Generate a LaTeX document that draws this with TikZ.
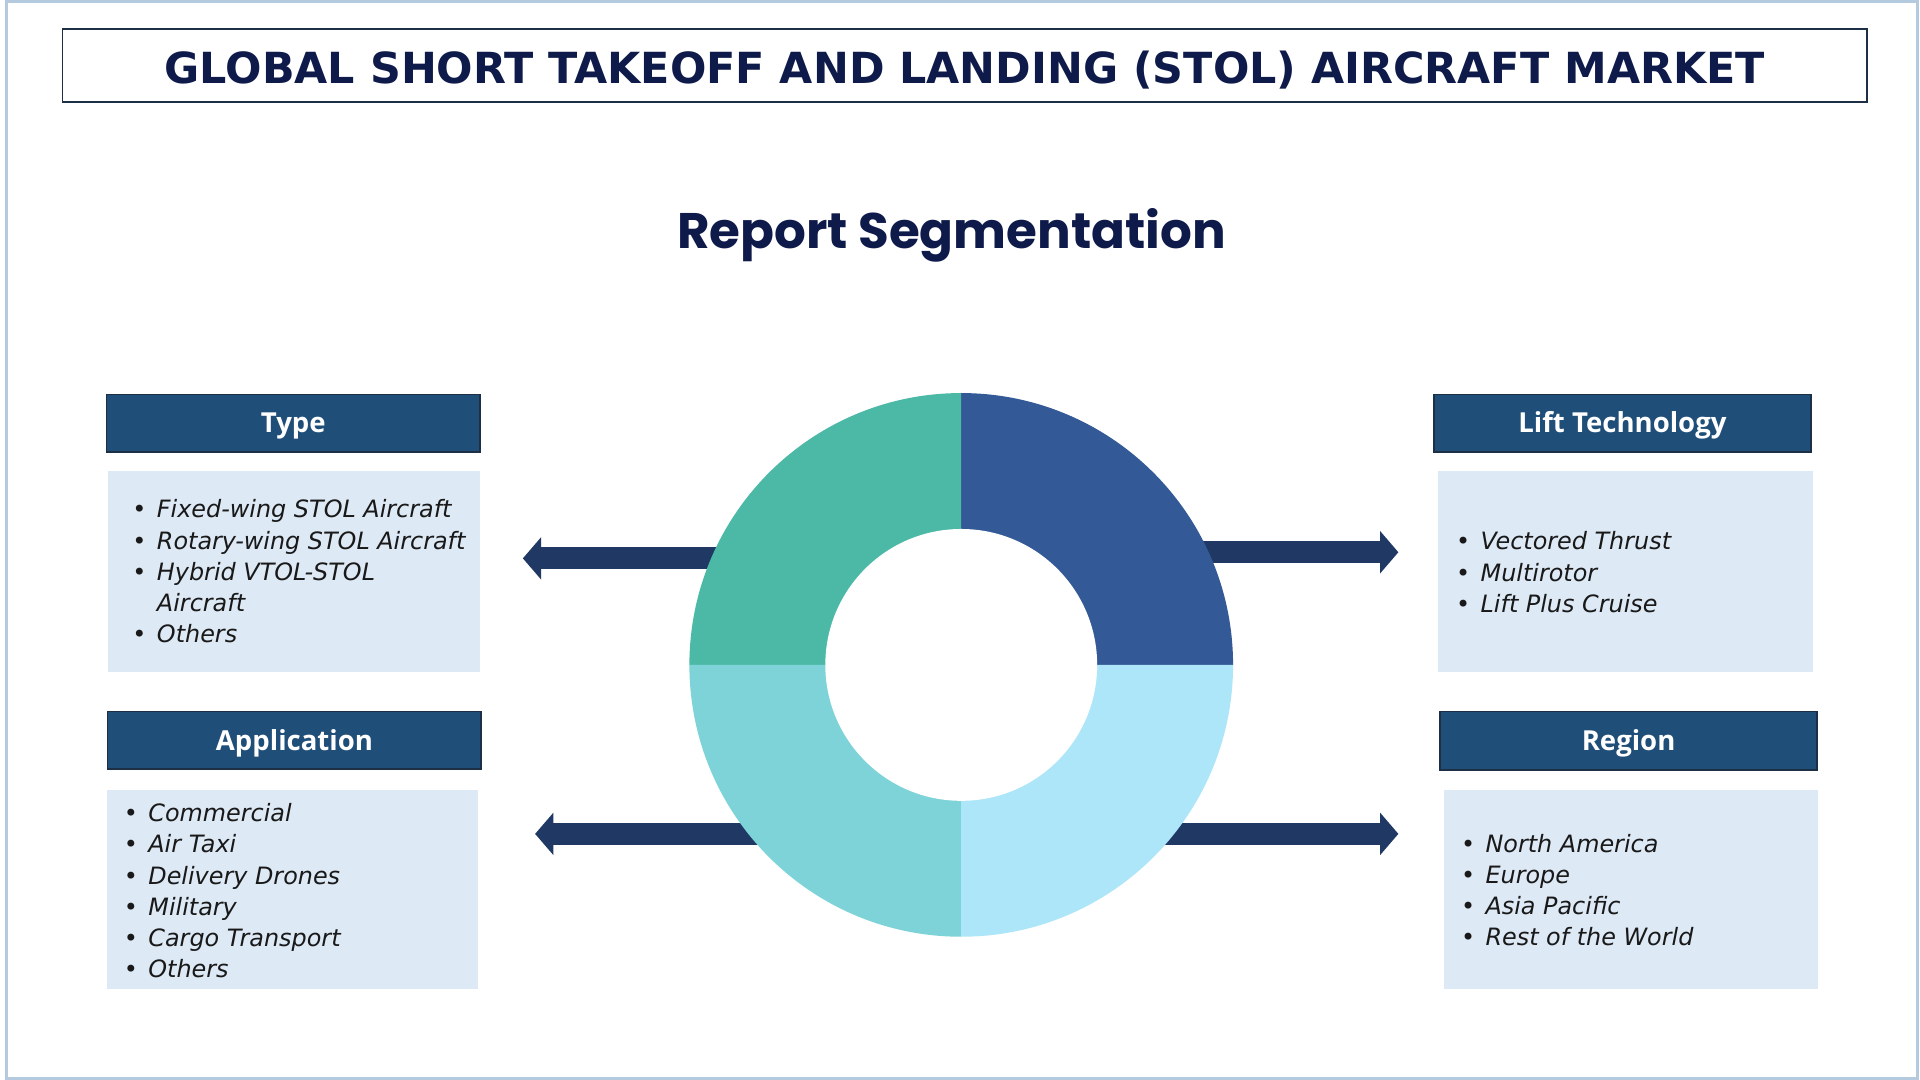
\documentclass[tikz,border=0pt]{standalone}
\usepackage{fontspec}
\setmainfont{Noto Sans}
\newfontfamily\titlefont{DejaVu Sans}
\newfontfamily\segfont{Poppins}
\newfontfamily\hdrfont{Open Sans}
\newfontfamily\listfont{DejaVu Sans}
\usetikzlibrary{arrows.meta}
\definecolor{navy}{HTML}{0E1A4A}
\definecolor{hdrfill}{HTML}{1F4E79}
\definecolor{hdrline}{HTML}{1C2F45}
\definecolor{listfill}{HTML}{DDE9F5}
\definecolor{arrowc}{HTML}{1F3864}
\definecolor{frame}{HTML}{B3CADF}
\definecolor{qa}{HTML}{335A96}
\definecolor{qb}{HTML}{4CB9A7}
\definecolor{qc}{HTML}{7DD3D8}
\definecolor{qd}{HTML}{ADE6F8}
\newcommand\itembul{\makebox[20pt][l]{•}}
\newcommand\itemcont{\makebox[20pt][l]{}}
\tikzset{
  hdr/.style={draw=hdrline, line width=1.2pt, fill=hdrfill, text=white, inner sep=0pt,
    text height=16pt, text depth=0pt,
    font=\hdrfont\bfseries\fontsize{22.5}{26}\selectfont},
  listbox/.style={fill=listfill, inner sep=0pt},
  listtext/.style={inner sep=0pt, anchor=base west, text=black!90,
    font=\listfont\itshape\fontsize{19.5}{25.5}\selectfont},
  arr/.style={draw=arrowc, line width=18pt, -{Triangle[width=34pt,length=15pt]}},
}
\begin{document}
\begin{tikzpicture}[x=1pt,y=-1pt]
\useasboundingbox (0,0) rectangle (1568,882);
\fill[white] (0,0) rectangle (1568,882);
\draw[frame, line width=2.5pt] (5,1.5) rectangle (1566,880.5);
% title
\node[draw=hdrline, line width=1.5pt, minimum width=1474pt, minimum height=59pt, inner sep=0pt] (titlebox) at (788,53.5) {};
\node[text=navy, font=\titlefont\bfseries\fontsize{35}{40}\selectfont] (title) at (788,57) {GLOBAL SHORT TAKEOFF AND LANDING (STOL) AIRCRAFT MARKET};
\node[text=navy, font=\segfont\bfseries\fontsize{40.8}{46}\selectfont] (seg) at (777,192) {Report Segmentation};
% arrows (behind donut)
\coordinate (a1s) at (650,456); \coordinate (a1e) at (427,456);
\coordinate (a2s) at (700,681); \coordinate (a2e) at (437,681);
\coordinate (a3s) at (950,451); \coordinate (a3e) at (1142,451);
\coordinate (a4s) at (900,681); \coordinate (a4e) at (1142,681);
\draw[arr] (a1s) -- (a1e);
\draw[arr] (a2s) -- (a2e);
\draw[arr] (a3s) -- (a3e);
\draw[arr] (a4s) -- (a4e);
% donut
\coordinate (dc) at (785,543);
\fill[qa] (dc) -- ++(0:222) arc[start angle=0, end angle=-90, radius=222] -- cycle;
\fill[qb] (dc) -- ++(-90:222) arc[start angle=-90, end angle=-180, radius=222] -- cycle;
\fill[qc] (dc) -- ++(180:222) arc[start angle=180, end angle=90, radius=222] -- cycle;
\fill[qd] (dc) -- ++(90:222) arc[start angle=90, end angle=0, radius=222] -- cycle;
\fill[white] (dc) circle[radius=111];
% left boxes
\node[hdr, minimum width=305pt, minimum height=47pt] (typeh) at (239.5,345.5) {Type};
\node[listbox, minimum width=304pt, minimum height=164pt] (typel) at (240,467) {};
\node[listtext] (typet) at (108,423) {\begin{tabular}[t]{@{}l@{}}
\itembul Fixed-wing STOL Aircraft\\
\itembul Rotary-wing STOL Aircraft\\
\itembul Hybrid VTOL-STOL\\
\itemcont Aircraft\\
\itembul Others\end{tabular}};
\node[hdr, minimum width=305pt, minimum height=47pt] (apph) at (240.5,604.5) {Application};
\node[listbox, minimum width=303pt, minimum height=163pt] (appl) at (238.5,726.5) {};
\node[listtext] (appt) at (101,671) {\begin{tabular}[t]{@{}l@{}}
\itembul Commercial\\
\itembul Air Taxi\\
\itembul Delivery Drones\\
\itembul Military\\
\itembul Cargo Transport\\
\itembul Others\end{tabular}};
% right boxes
\node[hdr, minimum width=308pt, minimum height=47pt] (lifth) at (1325,345.5) {Lift Technology};
\node[listbox, minimum width=307pt, minimum height=164pt] (liftl) at (1327.5,467) {};
\node[listtext] (liftt) at (1189,449) {\begin{tabular}[t]{@{}l@{}}
\itembul Vectored Thrust\\
\itembul Multirotor\\
\itembul Lift Plus Cruise\end{tabular}};
\node[hdr, minimum width=308pt, minimum height=48pt] (regh) at (1330,605) {Region};
\node[listbox, minimum width=306pt, minimum height=163pt] (regl) at (1332,726.5) {};
\node[listtext] (regt) at (1193,696) {\begin{tabular}[t]{@{}l@{}}
\itembul North America\\
\itembul Europe\\
\itembul Asia Pacific\\
\itembul Rest of the World\end{tabular}};
\end{tikzpicture}
\end{document}
